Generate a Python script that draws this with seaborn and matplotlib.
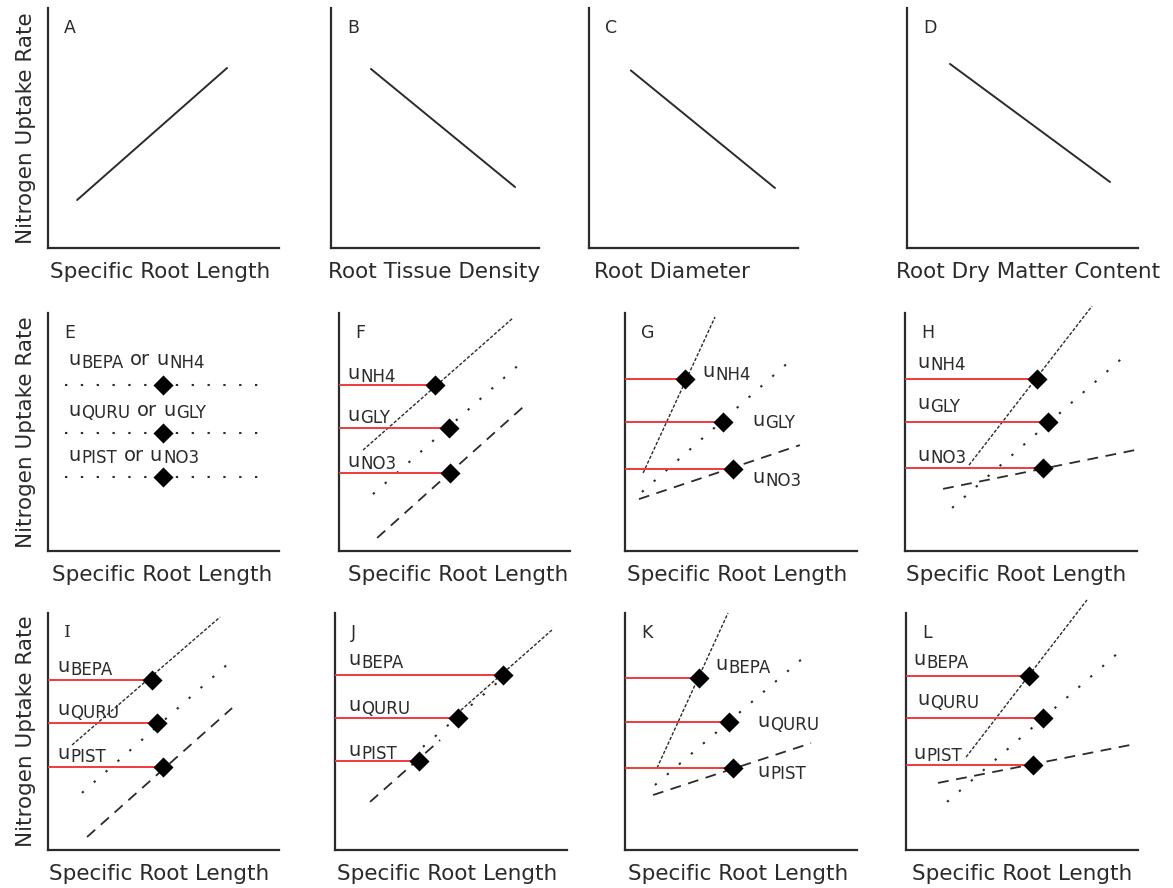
import matplotlib
matplotlib.use("Agg")
import matplotlib.pyplot as plt
import seaborn as sns

sns.set_theme(style="white")
plt.rcParams["font.family"] = ["DejaVu Sans"]

# ---------------------------------------------------------------------------
# Values (arbitrary units, 0-100 on both axes of every panel)
# ---------------------------------------------------------------------------
panel_letters = list("ABCDEFGHIJKL")
x_titles = ["Specific Root Length", "Root Tissue Density", "Root Diameter",
            "Root Dry Matter Content"] + ["Specific Root Length"] * 8
y_title = "Nitrogen Uptake Rate"

# Row 1: single trait-uptake relationships (start, end)
trend_x = {"A": [12.6, 77.5], "B": [19.2, 88.5], "C": [20.0, 89.0], "D": [18.6, 87.9]}
trend_y = {"A": [20.0, 75.0], "B": [74.6, 25.4], "C": [74.0, 25.0], "D": [76.7, 27.5]}

# Row 2 labels are N forms, row 3 labels are species
n_forms = ["NH4", "GLY", "NO3"]
species = ["BEPA", "QURU", "PIST"]

# Panel E: no relationship, three uptake levels
flat_x = [7.4, 93.1]
flat_y = [69.7, 49.6, 31.1]
flat_pt_x = [49.8, 49.8, 49.8]

# Panels F-L: three relationships each (fine dash, dotted, long dash)
rel_x = {
    "F": [[10.4, 75.3], [14.7, 79.2], [16.5, 79.7]],
    "G": [[7.8, 38.8], [7.3, 71.6], [6.0, 75.4]],
    "H": [[27.6, 80.6], [20.3, 96.6], [16.4, 99.1]],
    "I": [[10.4, 74.5], [14.7, 78.8], [16.9, 79.7]],
    "J": [[50.9, 93.5], [37.9, 69.8], [15.1, 45.3]],
    "K": [[13.8, 44.4], [12.9, 77.2], [12.1, 80.2]],
    "L": [[25.9, 78.0], [17.7, 94.4], [13.8, 96.6]],
}
rel_y = {
    "F": [[42.4, 97.9], [23.9, 79.4], [5.5, 60.5]],
    "G": [[32.8, 98.3], [24.8, 80.3], [21.8, 44.5]],
    "H": [[36.1, 102.9], [18.1, 83.6], [26.1, 42.4]],
    "I": [[44.3, 98.3], [24.1, 79.3], [5.5, 59.9]],
    "J": [[56.1, 92.8], [43.5, 70.5], [20.3, 46.4]],
    "K": [[34.6, 100.0], [27.4, 81.4], [23.2, 45.1]],
    "L": [[39.2, 105.5], [20.3, 85.7], [28.3, 44.3]],
}
# Mean trait / uptake of each group
pt_x = {
    "F": [41.6, 47.6, 48.1], "G": [25.9, 42.2, 46.6], "H": [56.9, 61.6, 59.5],
    "I": [45.0, 47.2, 49.8], "J": [72.4, 53.0, 36.2], "K": [31.9, 44.8, 46.6],
    "L": [53.0, 59.1, 54.7],
}
pt_y = {
    "F": [69.7, 51.7, 32.8], "G": [72.3, 54.2, 34.5], "H": [72.3, 54.2, 34.9],
    "I": [71.7, 53.6, 35.0], "J": [73.8, 55.7, 37.5], "K": [72.6, 54.0, 34.6],
    "L": [73.4, 55.7, 35.9],
}

# ---------------------------------------------------------------------------
# Layout (pixels of a 1173 x 888 canvas)
# ---------------------------------------------------------------------------
FIG_W, FIG_H = 1173, 888
row_top = [8, 313, 613]
row_bot = [248, 551, 850]
col_left = [[48, 331, 589, 907], [48, 339, 625, 905], [48, 335, 625, 906]]
col_width = [[231, 208, 209, 231], [231, 231, 232, 232], [231, 232, 232, 232]]
xlabel_cx = [[0.485, 0.495, 0.397, 0.524], [0.494, 0.515, 0.483, 0.478],
             [0.48, 0.483, 0.487, 0.50]]

# label anchor (left x, baseline y) in axis units
label_pos = {
    "E": ([8.7, 8.7, 8.7], [78.0, 56.9, 38.0]),
    "F": ([3.5, 3.5, 3.5], [72.1, 54.8, 35.5]),
    "G": ([33.2, 54.7, 54.7], [72.9, 52.7, 28.4]),
    "H": ([5.2, 5.2, 5.2], [77.1, 59.5, 38.0]),
    "I": ([3.9, 3.9, 3.9], [74.9, 56.8, 38.2]),
    "J": ([5.6, 5.6, 5.6], [77.9, 58.5, 39.5]),
    "K": ([38.8, 56.9, 56.9], [75.8, 51.7, 31.0]),
    "L": ([3.0, 4.7, 3.0], [77.9, 61.0, 38.6]),
}

INK = "#2b2b2b"
RED = "#f03a3a"
MAIN_FS = 14
SUB_FS = 12
rel_styles = [(0, (2.4, 1.3)), (0, (1.1, 6.5)), (0, (6.0, 4.2))]
rel_widths = [1.0, 1.5, 1.3]

fig = plt.figure(figsize=(FIG_W / 100, FIG_H / 100), dpi=100)
fig.patch.set_facecolor("white")


def rate_label(ax, x, y, segments):
    """Draw a chain of text pieces; segments are (text, is_subscript, gap_pt)."""
    prev = None
    for s, is_sub, gap in segments:
        size = SUB_FS if is_sub else MAIN_FS
        dy = -1.6 if is_sub else 0.0
        if prev is None:
            prev = ax.text(x, y, s, fontsize=size, color=INK, ha="left", va="baseline")
        else:
            prev = ax.annotate(s, xy=(1, y), xycoords=(prev, "data"),
                               xytext=(gap, dy), textcoords="offset points",
                               fontsize=size, color=INK, ha="left", va="baseline",
                               annotation_clip=False)
    return prev


for idx, letter in enumerate(panel_letters):
    r, c = divmod(idx, 4)
    left, width = col_left[r][c], col_width[r][c]
    top, bot = row_top[r], row_bot[r]
    ax = fig.add_axes([left / FIG_W, 1 - bot / FIG_H, width / FIG_W, (bot - top) / FIG_H])
    ax.set_xlim(0, 100)
    ax.set_ylim(0, 100)
    ax.set_facecolor("white")
    for side in ("top", "right"):
        ax.spines[side].set_visible(False)
    for side in ("left", "bottom"):
        ax.spines[side].set_color(INK)
        ax.spines[side].set_linewidth(1.6)
    ax.set_xticks([])
    ax.set_yticks([])

    ax.set_xlabel(x_titles[idx], fontsize=15.5, color=INK)
    ax.xaxis.set_label_coords(xlabel_cx[r][c], -30 / (bot - top))
    ax.xaxis.label.set_va("baseline")
    if c == 0:
        ax.set_ylabel(y_title, fontsize=15.5, color=INK)
        ax.yaxis.set_label_coords(-22 / width, 0.5)
        ax.yaxis.label.set_va("center")
    else:
        ax.set_ylabel("")

    letter_family = ["DejaVu Serif"] if letter == "I" else ["DejaVu Sans"]
    ax.text(16 / width, 1 - 11 / (bot - top), letter, transform=ax.transAxes,
            fontsize=12.5, color=INK, ha="left", va="top", family=letter_family)

    if r == 0:
        sns.lineplot(x=trend_x[letter], y=trend_y[letter], ax=ax, color=INK,
                     linewidth=1.4, sort=False, clip_on=False)
        continue

    names = n_forms if r == 1 else species
    lx, ly = label_pos[letter]

    if letter == "E":
        for k in range(3):
            sns.lineplot(x=flat_x, y=[flat_y[k], flat_y[k]], ax=ax, color=INK,
                         linewidth=1.5, linestyle=rel_styles[1], sort=False)
            rate_label(ax, lx[k], ly[k], [("u", False, 0), (species[k], True, 0.8),
                                          ("or", False, 4.5), ("u", False, 4.5),
                                          (n_forms[k], True, 0.8)])
        sns.scatterplot(x=flat_pt_x, y=flat_y, ax=ax, marker="D", s=105,
                        color="black", edgecolor="black", linewidth=0, zorder=5)
        continue

    for k in range(3):
        sns.lineplot(x=rel_x[letter][k], y=rel_y[letter][k], ax=ax, color=INK,
                     linewidth=rel_widths[k], linestyle=rel_styles[k], sort=False,
                     clip_on=False)
    for k in range(3):
        sns.lineplot(x=[0, pt_x[letter][k]], y=[pt_y[letter][k], pt_y[letter][k]],
                     ax=ax, color=RED, linewidth=1.4, sort=False, zorder=4)
        rate_label(ax, lx[k], ly[k], [("u", False, 0), (names[k], True, 0.8)])
    sns.scatterplot(x=pt_x[letter], y=pt_y[letter], ax=ax, marker="D", s=105,
                    color="black", edgecolor="black", linewidth=0, zorder=5,
                    clip_on=False)

fig.savefig("out.png", dpi=100, facecolor="white")
